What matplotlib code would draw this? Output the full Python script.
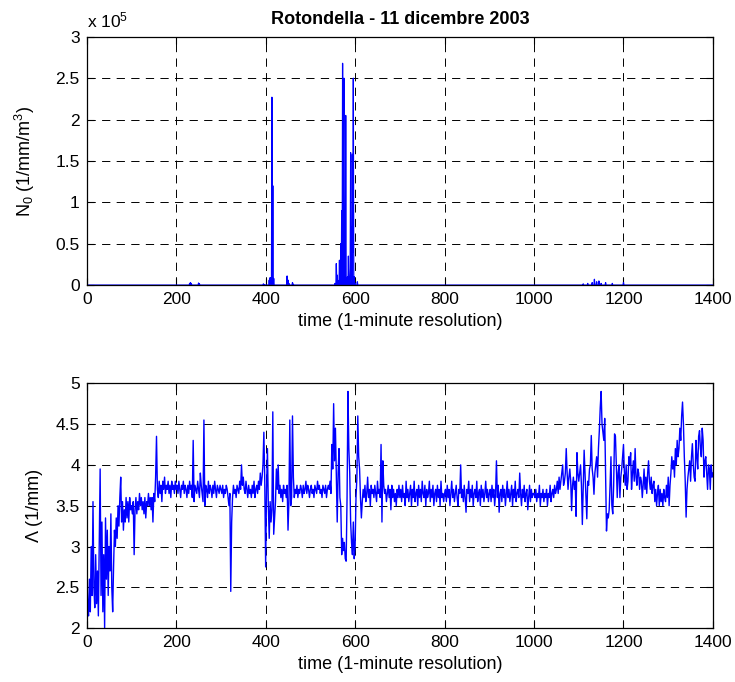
import numpy as np
import matplotlib
matplotlib.use("Agg")
import matplotlib.pyplot as plt
from matplotlib.ticker import FuncFormatter, MultipleLocator

plt.rcParams['font.family'] = ['Liberation Sans', 'DejaVu Sans']
plt.rcParams['mathtext.fontset'] = 'custom'
plt.rcParams['mathtext.rm'] = 'Liberation Sans'
plt.rcParams['mathtext.default'] = 'regular'

# N0: minutes with non-zero values (everything else sits on 0)
n0_minutes = [230, 232, 234, 250, 252,
              395, 398, 408, 410, 412, 414, 416, 418,
              448, 450, 452, 460, 462,
              555, 558, 560, 562, 565, 568, 570, 572, 574, 575, 577, 579,
              583, 585, 587, 589, 590, 592, 594, 595, 596, 598, 600, 605,
              1110, 1120, 1130, 1135, 1140, 1145, 1150, 1160, 1175, 1200]
n0_values = [2000, 3000, 1500, 2500, 1500,
             1500, 500, 6000, 9000, 4000, 227000, 120000, 8000,
             11000, 6000, 2000, 3000, 1000,
             2000, 26000, 12000, 5000, 30000, 50000, 90000, 268000, 150000, 250000, 60000, 205000,
             10000, 35000, 3000, 20000, 160000, 70000, 158000, 40000, 250000, 10000, 2000, 4000,
             1500, 2000, 3000, 7000, 4000, 5000, 2000, 3000, 2000, 3000]

# Lambda, read every 2 minutes (0 .. 1400), one row = 20 minutes
lam_values = [
    2.7, 2.3, 2.15, 2.6, 2.2, 3.0, 2.4, 3.55, 2.5, 2.25,
    2.9, 2.3, 2.7, 2.15, 3.1, 3.95, 2.4, 3.3, 2.2, 2.9,
    2.0, 3.35, 2.6, 3.2, 2.4, 3.0, 2.7, 3.4, 2.5, 2.2,
    2.75, 3.2, 3.0, 3.35, 3.1, 3.5, 3.25, 3.6, 3.85, 3.3,
    3.55, 3.2, 3.45, 3.3, 3.6, 3.35, 3.55, 3.3, 3.6, 3.45,
    # 100
    3.5, 3.4, 3.55, 2.9, 3.45, 3.6, 3.4, 3.55, 3.45, 3.65,
    3.5, 3.6, 3.45, 3.55, 3.4, 3.6, 3.35, 3.55, 3.5, 3.65,
    3.5, 3.6, 3.45, 3.6, 3.3, 3.65, 3.55, 3.85, 4.35, 3.7,
    3.6, 3.8, 3.65, 3.75, 3.55, 3.8, 3.7, 3.85, 3.65, 3.75,
    3.7, 3.8, 3.65, 3.75, 3.6, 3.8, 3.7, 3.75, 3.65, 3.8,
    # 200
    3.7, 3.75, 3.65, 3.8, 3.7, 3.6, 3.75, 3.7, 3.8, 3.65,
    3.75, 3.7, 3.6, 3.75, 3.65, 3.8, 3.7, 3.75, 3.6, 4.3,
    3.55, 3.75, 3.7, 3.65, 3.8, 3.7, 3.6, 3.9, 3.75, 3.65,
    3.55, 4.55, 3.5, 3.75, 3.7, 3.6, 3.8, 3.65, 3.75, 3.7,
    3.6, 3.75, 3.65, 3.8, 3.7, 3.6, 3.75, 3.7, 3.65, 3.75,
    # 300
    3.7, 3.65, 3.75, 3.6, 3.7, 3.65, 3.75, 3.7, 3.6, 3.5,
    3.65, 2.45, 3.3, 3.6, 3.75, 3.65, 3.7, 3.6, 3.75, 3.7,
    3.65, 3.8, 3.7, 4.0, 3.75, 3.85, 3.7, 3.65, 3.8, 3.7,
    3.6, 3.75, 3.65, 3.7, 3.6, 3.75, 3.65, 3.8, 3.6, 3.7,
    3.75, 3.65, 3.8, 3.7, 3.9, 3.75, 3.85, 4.0, 4.4, 3.8,
    # 400
    2.75, 3.7, 4.2, 3.5, 3.1, 3.55, 3.3, 3.45, 4.65, 3.15,
    3.35, 3.55, 3.95, 3.7, 4.0, 3.65, 3.75, 3.6, 3.7, 3.55,
    3.75, 3.65, 3.7, 3.6, 3.75, 3.2, 3.55, 4.55, 3.5, 3.6,
    4.6, 3.85, 3.6, 3.7, 3.65, 3.75, 3.6, 3.7, 3.65, 3.75,
    3.7, 3.6, 3.75, 3.65, 3.7, 3.8, 3.65, 3.75, 3.7, 3.6,
    # 500
    3.7, 3.75, 3.65, 3.7, 3.6, 3.75, 3.7, 3.65, 3.8, 3.7,
    3.75, 3.65, 3.7, 3.6, 3.75, 3.7, 3.65, 3.75, 3.6, 3.7,
    3.75, 3.7, 3.8, 3.65, 4.25, 3.95, 4.75, 4.05, 4.45, 3.9,
    3.3, 3.9, 4.2, 3.6, 3.5, 2.9, 3.1, 2.95, 3.05, 2.85,
    2.82, 3.6, 4.9, 4.2, 3.9, 3.3, 3.05, 2.9, 3.3, 2.85,
    # 600
    3.0, 3.6, 3.85, 4.6, 4.1, 3.95, 3.6, 3.35, 3.55, 3.7,
    3.6, 3.75, 3.55, 3.65, 3.85, 3.6, 3.7, 3.5, 3.75, 3.65,
    3.7, 3.6, 3.75, 3.65, 3.55, 3.8, 3.65, 3.7, 3.6, 4.25,
    3.3, 4.05, 3.75, 3.65, 3.7, 3.55, 3.65, 3.75, 3.6, 3.7,
    3.45, 3.75, 3.6, 3.7, 3.55, 3.65, 3.5, 3.7, 3.6, 3.75,
    # 700
    3.6, 3.7, 3.55, 3.75, 3.6, 3.65, 3.5, 3.8, 3.6, 3.7,
    3.55, 3.65, 3.75, 3.5, 3.7, 3.6, 3.8, 3.55, 3.65, 3.7,
    3.5, 3.75, 3.6, 3.7, 3.55, 3.8, 3.65, 3.6, 3.75, 3.5,
    3.7, 3.6, 3.65, 3.8, 3.55, 3.7, 3.6, 3.75, 3.5, 3.65,
    3.7, 3.55, 3.75, 3.6, 3.7, 3.5, 3.8, 3.6, 3.65, 3.55,
    # 800
    3.65, 3.7, 3.55, 3.75, 3.6, 3.7, 3.5, 3.65, 3.8, 3.6,
    3.7, 3.55, 3.65, 3.75, 3.6, 3.5, 3.7, 3.65, 4.0, 3.6,
    3.7, 3.55, 3.75, 3.6, 3.42, 3.7, 3.65, 3.8, 3.55, 3.7,
    3.6, 3.75, 3.5, 3.65, 3.7, 3.6, 3.8, 3.55, 3.65, 3.7,
    3.5, 3.75, 3.6, 3.7, 3.55, 3.65, 3.8, 3.6, 3.7, 3.55,
    # 900
    3.65, 3.7, 3.55, 3.75, 3.6, 3.7, 3.5, 3.65, 4.05, 3.6,
    3.75, 3.42, 3.65, 3.7, 3.55, 3.75, 3.6, 3.7, 3.5, 3.65,
    3.8, 3.6, 3.7, 3.55, 3.65, 3.75, 3.5, 3.7, 3.6, 3.8,
    3.55, 3.65, 3.7, 3.6, 3.9, 3.65, 3.5, 3.7, 3.6, 3.75,
    3.55, 3.65, 3.7, 3.45, 3.6, 3.75, 3.55, 3.7, 3.6, 3.65,
    # 1000
    3.65, 3.6, 3.7, 3.55, 3.65, 3.6, 3.75, 3.5, 3.65, 3.6,
    3.7, 3.55, 3.65, 3.6, 3.7, 3.5, 3.65, 3.6, 3.75, 3.55,
    3.65, 3.7, 3.6, 3.75, 3.65, 3.7, 3.8, 3.65, 3.85, 3.7,
    3.8, 3.9, 4.0, 3.75, 3.8, 3.9, 4.2, 3.9, 3.7, 3.85,
    3.95, 3.8, 3.44, 3.75, 3.85, 3.7, 3.8, 3.37, 4.15, 3.9,
    # 1100
    3.8, 3.9, 4.0, 3.75, 3.27, 3.7, 4.18, 3.9, 3.6, 3.34,
    3.8, 3.75, 3.95, 4.0, 4.36, 3.95, 3.85, 3.64, 3.9, 4.0,
    4.1, 3.85, 4.2, 4.42, 4.7, 4.9, 4.5, 4.4, 4.3, 4.57,
    3.9, 3.19, 3.4, 3.35, 3.45, 3.75, 4.1, 3.5, 3.4, 3.75,
    4.38, 4.35, 4.0, 3.6, 3.9, 4.0, 3.6, 3.85, 3.95, 4.1,
    # 1200
    4.25, 3.9, 3.75, 4.0, 3.7, 3.8, 4.1, 4.0, 4.15, 3.7,
    3.9, 4.05, 3.8, 4.2, 3.85, 3.75, 3.95, 3.9, 3.7, 3.85,
    3.8, 3.6, 3.75, 3.95, 3.7, 3.85, 3.65, 3.9, 4.05, 3.8,
    3.7, 3.85, 3.65, 3.75, 3.8, 3.55, 3.7, 3.5, 3.65, 3.75,
    3.5, 3.7, 3.55, 3.65, 3.5, 3.7, 3.6, 3.55, 3.75, 3.6,
    # 1300
    3.85, 3.5, 3.75, 3.9, 4.1, 3.95, 4.05, 3.85, 4.2, 4.0,
    4.3, 4.1, 4.2, 4.45, 4.3, 4.6, 4.77, 4.5, 4.1, 3.8,
    3.36, 3.7, 3.85, 3.95, 4.05, 3.8, 4.1, 4.26, 4.0, 3.85,
    3.8, 4.3, 4.1, 3.95, 4.35, 4.42, 4.2, 4.1, 4.45, 4.3,
    3.85, 4.05, 4.1, 3.9, 3.7, 4.0, 3.95, 3.7, 4.0, 3.85,
    3.9]

t_n0 = np.arange(0, 1401)
n0 = np.zeros(len(t_n0))
n0[n0_minutes] = n0_values
t_lam = np.arange(0, 1401, 2)
lam = np.array(lam_values)

fig = plt.figure(figsize=(7.35, 6.82), dpi=100)
ax1 = fig.add_axes([0.118, 0.582, 0.852, 0.364])
ax2 = fig.add_axes([0.118, 0.079, 0.852, 0.359])

ax1.plot(t_n0, n0, color='blue', lw=0.9)
ax2.plot(t_lam, lam, color='blue', lw=1.0)

for ax in (ax1, ax2):
    ax.set_xlim(0, 1400)
    ax.xaxis.set_major_locator(MultipleLocator(200))
    ax.grid(True, color='black', linestyle=(0, (8.5, 6.5)), linewidth=0.7)
    ax.tick_params(direction='in', top=True, right=True, length=5, labelsize=12.5, width=0.8, pad=5)
    for s in ax.spines.values():
        s.set_linewidth(0.9)
    ax.set_xlabel('time (1-minute resolution)', fontsize=13, labelpad=4)

ax1.set_ylim(0, 3e5)
ax1.yaxis.set_major_locator(MultipleLocator(0.5e5))
ax1.yaxis.set_major_formatter(FuncFormatter(lambda v, p: f'{v/1e5:g}'))
ax1.text(0.0, 1.025, 'x 10$^5$', transform=ax1.transAxes, fontsize=12.5, ha='left', va='bottom')
ax1.set_ylabel('N$_0$ (1/mm/m$^3$)', fontsize=13)
ax1.yaxis.set_label_coords(-0.08, 0.5)
ax1.set_title('Rotondella - 11 dicembre 2003', fontsize=13, fontweight='bold', pad=9)

ax2.set_ylim(2, 5)
ax2.yaxis.set_major_locator(MultipleLocator(0.5))
ax2.yaxis.set_major_formatter(FuncFormatter(lambda v, p: f'{v:g}'))
ax2.set_ylabel('Λ (1/mm)', fontsize=13)
ax2.yaxis.set_label_coords(-0.07, 0.5)

fig.savefig('out.png', dpi=100)
